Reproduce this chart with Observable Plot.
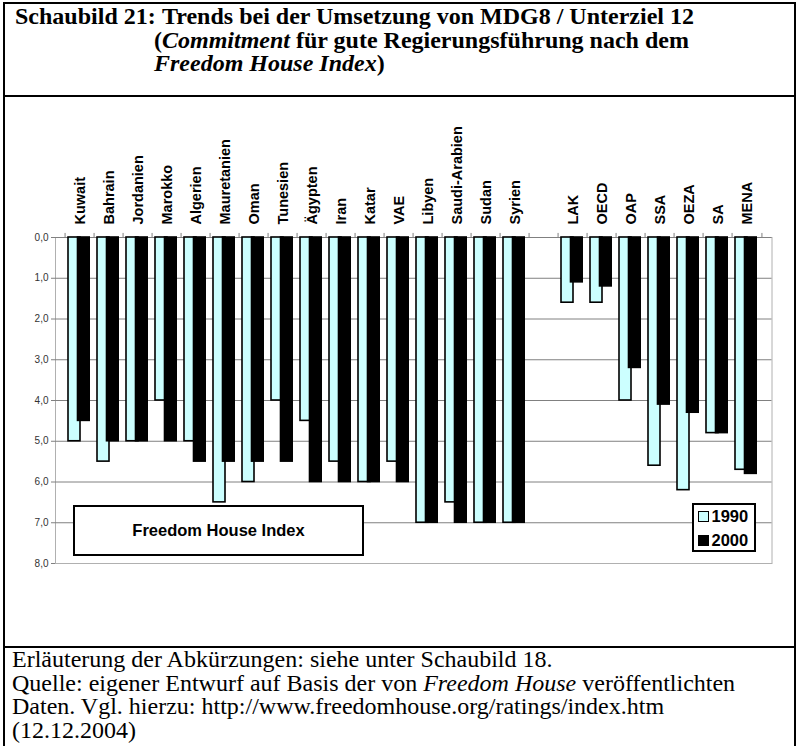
<!DOCTYPE html>
<html>
<head>
<meta charset="utf-8">
<script src="https://cdn.jsdelivr.net/npm/d3@7"></script>
<script src="https://cdn.jsdelivr.net/npm/@observablehq/plot@0.6"></script>
<style>
  html, body { margin: 0; padding: 0; background: #fff; }
  #page { position: relative; width: 799px; height: 746px; overflow: hidden; background: #fff; }
  .hline { position: absolute; background: #000; }
  .serif { font-family: "Liberation Serif", "Times New Roman", serif; color: #000; }
  #title { position: absolute; left: 0; top: 5px; font-size: 24px; font-weight: bold; line-height: 23.5px; white-space: nowrap; }
  #title div { position: absolute; white-space: nowrap; }
  #caption { position: absolute; left: 12px; top: 648px; font-size: 24px; line-height: 23.5px; white-space: nowrap; }
  #chart { position: absolute; left: 0; top: 98px; }
  .box { position: absolute; border: 2px solid #000; background: #fff; box-sizing: border-box;
         font-family: "Liberation Sans", Arial, sans-serif; font-weight: bold; color: #000; }
</style>
</head>
<body>
<div id="page">
  <div id="title" class="serif">
    <div style="left:15px; top:0;">Schaubild 21:</div>
    <div style="left:162px; top:0;">Trends bei der Umsetzung von MDG8 / Unterziel 12</div>
    <div style="left:154px; top:23.5px;">(<i>Commitment</i> für gute Regierungsführung nach dem</div>
    <div style="left:154px; top:47px;"><i>Freedom House Index</i>)</div>
  </div>
  <div id="chart"></div>
  <div id="caption" class="serif">
    <div>Erläuterung der Abkürzungen: siehe unter Schaubild 18.</div>
    <div>Quelle: eigener Entwurf auf Basis der von <i>Freedom House</i> veröffentlichten</div>
    <div>Daten. Vgl. hierzu: http://www.freedomhouse.org/ratings/index.htm</div>
    <div>(12.12.2004)</div>
  </div>
  <div class="box" id="annot" style="left:73px; top:505px; width:291px; height:51px; font-size:16.5px; display:flex; align-items:center; justify-content:center;">Freedom House Index</div>
  <div class="box" id="legend" style="left:692px; top:503px; width:64px; height:49px; font-size:16.5px; line-height:19px;">
    <div style="position:absolute; left:3.5px; top:5.5px; width:9px; height:9px; background:#ccffff; border:1.5px solid #000;"></div>
    <div style="position:absolute; left:17.5px; top:1.5px;">1990</div>
    <div style="position:absolute; left:3.5px; top:29.5px; width:9px; height:9px; background:#000; border:1.5px solid #000;"></div>
    <div style="position:absolute; left:17.5px; top:25.5px;">2000</div>
  </div>
  <!-- frame lines -->
  <div class="hline" style="left:3px; top:2px; width:793px; height:2px;"></div>
  <div class="hline" style="left:3px; top:95px; width:793px; height:2px;"></div>
  <div class="hline" style="left:3px; top:646px; width:793px; height:2px;"></div>
  <div class="hline" style="left:3px; top:2px; width:2px; height:744px;"></div>
  <div class="hline" style="left:794px; top:2px; width:2px; height:744px;"></div>
</div>
<script>
// Categories (a blank slot separates countries from regional groups)
const countries = ["Kuwait","Bahrain","Jordanien","Marokko","Algerien","Mauretanien","Oman","Tunesien","Ägypten","Iran","Katar","VAE","Libyen","Saudi-Arabien","Sudan","Syrien"];
const regions = ["LAK","OECD","OAP","SSA","OEZA","SA","MENA"];
const gap = " ";
const categories = [...countries, gap, ...regions];

// Freedom House Index values
const values1990 = [5.0,5.5,5.0,4.0,5.0,6.5,6.0,4.0,4.5,5.5,6.0,5.5,7.0,6.5,7.0,7.0, 1.6,1.6,4.0,5.6,6.2,4.8,5.7];
const values2000 = [4.5,5.0,5.0,5.0,5.5,5.5,5.5,5.5,6.0,6.0,6.0,6.0,7.0,7.0,7.0,7.0, 1.1,1.2,3.2,4.1,4.3,4.8,5.8];
const yTicks = [0,1,2,3,4,5,6,7,8];
const gridLines = [1,2,3,4,5,6,7];

const labels = [...countries, ...regions];
const data1990 = labels.map((c, i) => ({cat: c, v: values1990[i]}));
const data2000 = labels.map((c, i) => ({cat: c, v: values2000[i]}));

const W = 799, H = 549, mL = 55, mR = 27.5, mT = 139, mB = 84;
const bw = (W - mL - mR) / categories.length;

const chart = Plot.plot({
  width: W, height: H,
  marginLeft: mL, marginRight: mR, marginTop: mT, marginBottom: mB,
  style: {fontFamily: "Liberation Sans, Arial, sans-serif", background: "transparent", overflow: "visible"},
  x: {type: "band", domain: categories, padding: 0, label: null},
  y: {domain: [0, 8], reverse: true, label: null},
  marks: [
    Plot.frame({stroke: "#b0b0b0"}),
    Plot.ruleY(gridLines, {stroke: "#808080", strokeWidth: 1}),
    Plot.ruleY([0], {stroke: "#808080"}),
    Plot.ruleX(categories, {x: d => d, y1: 0, y2: -0.1, dx: -bw / 2, stroke: "#808080"}),
    Plot.ruleX([categories[categories.length - 1]], {x: d => d, y1: 0, y2: -0.1, dx: bw / 2, stroke: "#808080"}),
    Plot.barY(data1990, {x: "cat", y1: 0, y2: "v", fill: "#ccffff", stroke: "#000", strokeWidth: 1.6, insetLeft: 3, insetRight: 14}),
    Plot.barY(data2000, {x: "cat", y1: 0, y2: "v", fill: "#000", stroke: "#000", strokeWidth: 1.6, insetLeft: 12.5, insetRight: 4.8}),
    Plot.axisY({ticks: yTicks, tickSize: 4, tickPadding: 3, fontSize: 10, fill: "#333", stroke: "#808080",
      tickFormat: d => d.toFixed(1).replace(".", ","), label: null}),
    Plot.axisX({anchor: "top", tickRotate: -90, tickSize: 0, tickPadding: 13, fontSize: 14.5, fontWeight: "bold", fill: "#000", label: null})
  ]
});
document.getElementById("chart").appendChild(chart);
</script>
</body>
</html>
